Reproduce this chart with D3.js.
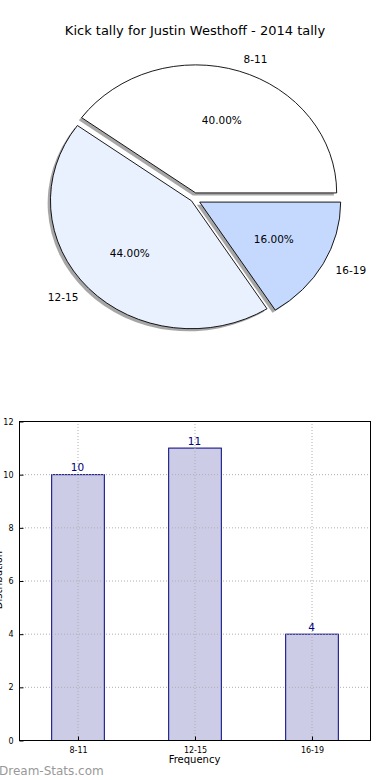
<!DOCTYPE html>
<html><head><meta charset="utf-8">
<script src="https://cdn.jsdelivr.net/npm/d3@7"></script>
<style>body{margin:0;background:#fff}svg{display:block;font-family:"DejaVu Sans",sans-serif}</style>
</head><body><svg id="c" width="390" height="780"></svg>
<script>
const title = "Kick tally for Justin Westhoff - 2014 tally";
const categories = ["8-11", "12-15", "16-19"];
const values = [10, 11, 4];
const pieColors = ["#ffffff", "#eaf1fe", "#c5d9fe"];
const explode = [0.05, 0.02, 0.05];
const yTicks = [0, 2, 4, 6, 8, 10, 12];

const svg = d3.select("#c");
svg.append("text").attr("x", 195).attr("y", 35).attr("text-anchor", "middle")
  .attr("font-size", 13).attr("fill", "#000").text(title);

// ---- Pie ----
const cx = 193.5, cy = 199, rx = 141, ry = 128;
const total = d3.sum(values);
const pieGen = d3.pie().sort(null).value(d => d)
  .startAngle(Math.PI / 2).endAngle(Math.PI / 2 - 2 * Math.PI);
const arcs = pieGen(values);
const arcGen = d3.arc().innerRadius(0).outerRadius(1);
const pg = svg.append("g");
arcs.forEach((a, i) => {
  const mid = (a.startAngle + a.endAngle) / 2;
  const ux = Math.sin(mid), uy = -Math.cos(mid);
  const ox = cx + explode[i] * rx * ux, oy = cy + explode[i] * ry * uy;
  const path = arcGen({startAngle: Math.min(a.startAngle, a.endAngle), endAngle: Math.max(a.startAngle, a.endAngle)});
  pg.append("path").attr("d", path)
    .attr("transform", `translate(${ox - 2.8},${oy + 2.6}) scale(${rx},${ry})`)
    .attr("fill", "#4d4d4d").attr("fill-opacity", 0.5).attr("stroke", "none");
  a._o = [ox, oy, ux, uy, path];
});
arcs.forEach((a, i) => {
  const [ox, oy, ux, uy, path] = a._o;
  pg.append("path").attr("d", path)
    .attr("transform", `translate(${ox},${oy}) scale(${rx},${ry})`)
    .attr("fill", pieColors[i]).attr("stroke", "#000").attr("stroke-width", 0.9)
    .attr("vector-effect", "non-scaling-stroke").attr("stroke-linejoin", "miter");
});
arcs.forEach((a, i) => {
  const [ox, oy, ux, uy] = a._o;
  const lx = ox + 1.1 * rx * ux, ly = oy + 1.1 * ry * uy;
  pg.append("text").attr("x", lx).attr("y", ly).attr("dy", "0.35em")
    .attr("text-anchor", ux > 0 ? "start" : "end").attr("font-size", 10.5).text(categories[i]);
  const px = ox + 0.6 * rx * ux, py = oy + 0.6 * ry * uy;
  pg.append("text").attr("x", px).attr("y", py).attr("dy", "0.35em")
    .attr("text-anchor", "middle").attr("font-size", 10.5)
    .text((values[i] / total * 100).toFixed(2) + "%");
});

// ---- Bar chart ----
const L = 19, R = 370, T = 421, B = 740;
const x = d3.scaleLinear().domain([-0.5, categories.length - 0.5]).range([L, R]);
const y = d3.scaleLinear().domain([0, 12]).range([B, T]);
const bw = 0.45;
const bg = svg.append("g");
bg.selectAll(".bar").data(values).join("rect")
  .attr("x", (d, i) => x(i - bw / 2) + 0.5).attr("width", x(bw) - x(0))
  .attr("y", d => y(d) + 0.5).attr("height", d => y(0) - y(d))
  .attr("fill", "#000080").attr("fill-opacity", 0.2)
  .attr("stroke", "#000080").attr("stroke-width", 1);
bg.selectAll(".gx").data(categories).join("line")
  .attr("x1", (d, i) => x(i) + 0.5).attr("x2", (d, i) => x(i) + 0.5).attr("y1", T).attr("y2", B)
  .attr("stroke", "#b0b0b0").attr("stroke-dasharray", "1,2").attr("stroke-width", 1);
bg.selectAll(".gy").data(yTicks).join("line")
  .attr("x1", L).attr("x2", R).attr("y1", d => y(d) + 0.5).attr("y2", d => y(d) + 0.5)
  .attr("stroke", "#b0b0b0").attr("stroke-dasharray", "1,2").attr("stroke-width", 1);
bg.selectAll(".vl").data(values).join("text")
  .attr("x", (d, i) => x(i)).attr("y", d => y(d) - 3)
  .attr("text-anchor", "middle").attr("font-size", 10.5).attr("fill", "#000080").text(d => d);
bg.append("rect").attr("x", L + 0.5).attr("y", T + 0.5).attr("width", R - L).attr("height", B - T)
  .attr("fill", "none").attr("stroke", "#000").attr("stroke-width", 1);
const yAxis = d3.axisLeft(y).tickValues(yTicks).tickSize(-4).tickPadding(6).tickFormat(d3.format("d"));
const ya = bg.append("g").attr("transform", `translate(${L + 0.5},0.5)`).call(yAxis);
ya.select(".domain").remove();
ya.selectAll("text").attr("font-size", 8).attr("font-family", "DejaVu Sans").attr("fill", "#000");
const xAxis = d3.axisBottom(x).tickValues(d3.range(categories.length)).tickFormat(i => categories[i]).tickSize(-4).tickPadding(7);
const xa = bg.append("g").attr("transform", `translate(0.5,${B + 0.5})`).call(xAxis);
xa.select(".domain").remove();
xa.selectAll("text").attr("font-size", 8).attr("font-family", "DejaVu Sans").attr("fill", "#000");
svg.append("text").attr("x", (L + R) / 2).attr("y", 763).attr("text-anchor", "middle")
  .attr("font-size", 10).text("Frequency");
svg.append("text").attr("transform", "translate(2,580) rotate(-90)").attr("text-anchor", "middle")
  .attr("font-size", 10).text("Distribution");
svg.append("text").attr("x", -1).attr("y", 775).attr("font-size", 12)
  .attr("fill", "#999999").text("Dream-Stats.com");
</script></body></html>
